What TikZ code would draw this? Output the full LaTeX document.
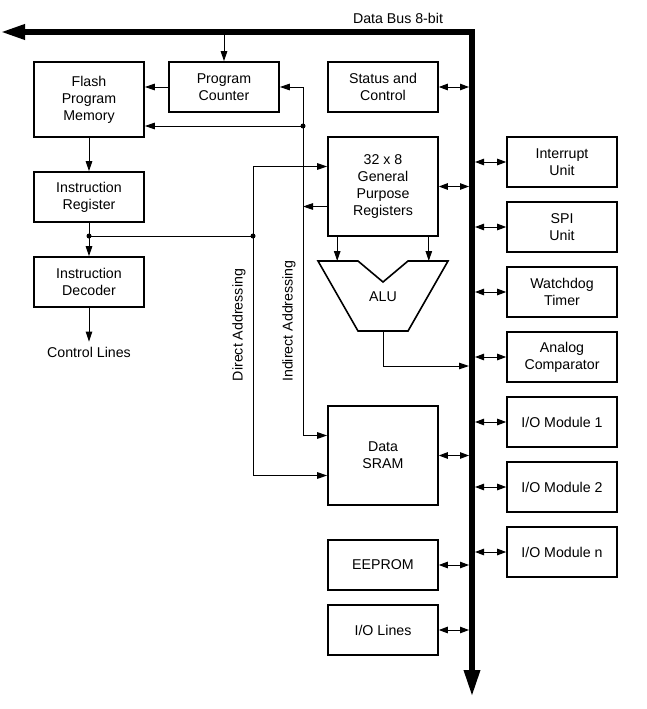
\documentclass[tikz,border=0pt]{standalone}
\usepackage{fontspec}
\setmainfont{Liberation Sans}
\usetikzlibrary{arrows.meta}
\usetikzlibrary{positioning}
\tikzstyle{every node}+=[inner sep=0pt]
\tikzstyle{block} = [rectangle, draw, line width=1.6pt, font=\fontsize{14.2}{17}\selectfont, text centered, align=center, minimum height=50pt, minimum width=110pt]
\tikzstyle{tall} = [block, minimum height=99pt]
\tikzstyle{line} = [draw, line width=1pt, -{Triangle[length=10pt,width=6.5pt]}]
\tikzstyle{dline} = [draw, line width=1pt, {Triangle[length=9pt,width=6.5pt]}-{Triangle[length=9pt,width=6.5pt]}]
\tikzstyle{dot} = [circle, fill, minimum size=5pt]
\tikzstyle{value} = [font=\fontsize{14.2}{17}\selectfont]

\begin{document}
\begin{tikzpicture}[x=1pt, y=-1pt]
            \useasboundingbox (0,0) rectangle (646,709);
            % Data bus
            \draw [line width=6pt, line join=miter, {Triangle[length=25pt,width=14pt]}-{Triangle[length=27pt,width=15pt]}] (0,32) -| (472,697);
            \node [value] (buslabel) at (398,18) {Data Bus 8-bit};
            \coordinate (busl) at (469,0);
            \coordinate (busr) at (475,0);
            \coordinate (bustop) at (0,35);
            % Place nodes
            \node [block, minimum height=75pt] (flash) at (89,99.5) {Flash\\Program\\Memory};
            \node [block, below=33.4pt of flash] (ir) {Instruction\\Register};
            \node [block, below=33.4pt of ir] (id) {Instruction\\Decoder};
            \node [value] (ctrl) at (89,352) {Control Lines};
            \node [block] (pc) at (224,87) {Program\\Counter};
            \node [block] (status) at (383,87) {Status and\\Control};
            \node [tall] (gpr) at (383,186.5) {32 x 8\\General\\Purpose\\Registers};
            \node [tall] (sram) at (383,455.5) {Data\\SRAM};
            \node [block] (eeprom) at (383,565) {EEPROM};
            \node [block, below=13.4pt of eeprom] (iolines) {I/O Lines};
            \node [block] (intr) at (562,162) {Interrupt\\Unit};
            \node [block, below=13.4pt of intr] (spi) {SPI\\Unit};
            \node [block, below=13.4pt of spi] (wdt) {Watchdog\\Timer};
            \node [block, below=13.4pt of wdt] (acmp) {Analog\\Comparator};
            \node [block, below=13.4pt of acmp] (io1) {I/O Module 1};
            \node [block, below=13.4pt of io1] (io2) {I/O Module 2};
            \node [block, below=13.4pt of io2] (ion) {I/O Module n};
            % ALU
            \draw [line width=1.6pt, line join=miter] (318,261) -- (358,261) -- (383,282) -- (408,261) -- (448,261) -- (408,331) -- (358,331) -- cycle;
            \node [value] (alu) at (383,297) {ALU};
            \coordinate (alutop) at (383,261);
            \coordinate (alubot) at (383,331);
            \coordinate (aluout) at (469,366);
            % Addressing lines
            \coordinate (ind) at (303,126);
            \coordinate (dir) at (253,236);
            \coordinate (irdot) at (89,236);
            \node [value, rotate=90] (diraddr) at (239,325) {Direct Addressing};
            \node [value, rotate=90] (indaddr) at (289,321) {Indirect Addressing};
            % Draw edges
            \path [line] (pc.north |- bustop) -- (pc.north);
            \path [line] (pc.west) -- (pc.west -| flash.east);
            \path [line] (ind) |- (pc.east);
            \path [line] (ind) -- (ind -| flash.east);
            \path [line] (ind) |- ([yshift=20pt]sram.west);
            \path [line] ([yshift=-20pt]gpr.west) -- ([yshift=-20pt]gpr.west -| ind);
            \path [line] (dir) |- ([yshift=20pt]gpr.west);
            \path [line] (dir) |- ([yshift=-20pt]sram.west);
            \draw [line width=1pt] (irdot) -- (dir);
            \path [line] (flash.south) -- (ir.north);
            \path [line] (ir.south) -- (id.north);
            \path [line] (id.south) -- ([yshift=5pt]ctrl.north);
            \path [line] ([xshift=10pt]gpr.south west) -- ([xshift=10pt]gpr.south west |- alutop);
            \path [line] ([xshift=-10pt]gpr.south east) -- ([xshift=-10pt]gpr.south east |- alutop);
            \path [line] (alubot) |- (aluout);
            \node [dot] at (ind) {};
            \node [dot] at (dir) {};
            \node [dot] at (irdot) {};
            % Bus connections
            \path [dline] (status.east) -- (status.east -| busl);
            \path [dline] (gpr.east) -- (gpr.east -| busl);
            \path [dline] (sram.east) -- (sram.east -| busl);
            \path [dline] (eeprom.east) -- (eeprom.east -| busl);
            \path [dline] (iolines.east) -- (iolines.east -| busl);
            \path [dline] (intr.west -| busr) -- (intr.west);
            \path [dline] (spi.west -| busr) -- (spi.west);
            \path [dline] (wdt.west -| busr) -- (wdt.west);
            \path [dline] (acmp.west -| busr) -- (acmp.west);
            \path [dline] (io1.west -| busr) -- (io1.west);
            \path [dline] (io2.west -| busr) -- (io2.west);
            \path [dline] (ion.west -| busr) -- (ion.west);
          \end{tikzpicture}
\end{document}
